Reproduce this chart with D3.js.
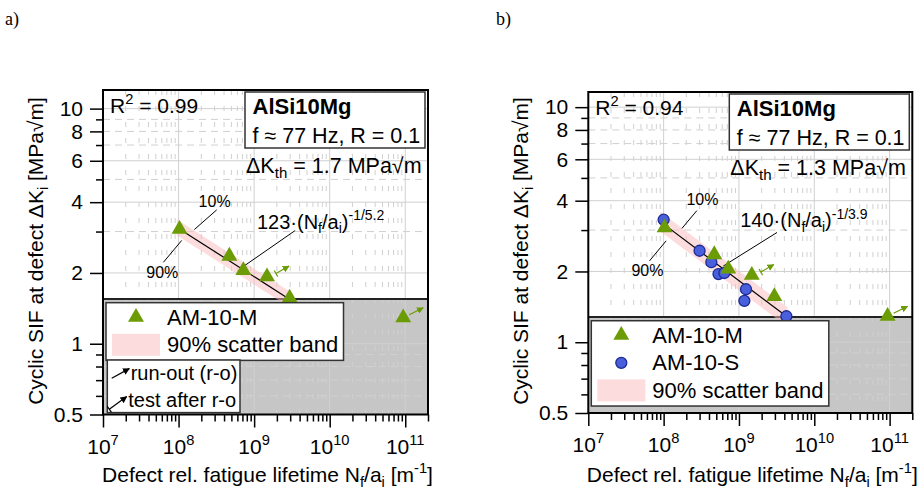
<!DOCTYPE html>
<html>
<head>
<meta charset="utf-8">
<script src="https://cdn.jsdelivr.net/npm/d3@7"></script>
<style>
  body { margin: 0; background: #fff; }
  svg text { font-family: "Liberation Sans", Arial, sans-serif; fill: #000; }
</style>
</head>
<body>
<svg id="chart" width="921" height="491"></svg>
<script>
/* DATA */
const xTickExps = [7, 8, 9, 10, 11];
const yTickLabels = [0.5, 1, 2, 4, 6, 8, 10];
const yMinorTicks = [0.6, 0.7, 0.8, 0.9, 3, 5, 7, 9];
const ySolidGrid = [0.5, 1, 2, 4, 6, 10];
const yDashedGrid = [0.6, 0.7, 0.8, 0.9, 3, 5, 7, 8, 9];

// AM-10-M (triangles) - same specimens shown in both panels
const amM_N = [1.03e8, 4.7e8, 7.2e8, 1.48e9, 2.95e9, 9.4e10];
const amM_K = [3.07, 2.36, 2.05, 1.93, 1.565, 1.29];
const amM_state = ["f", "f", "f", "after", "f", "runout"];

// AM-10-S (circles) - panel b only
const amS_N = [1.0e8, 3.0e8, 4.3e8, 5.35e8, 6.4e8, 1.24e9, 1.18e9, 4.26e9];
const amS_K = [3.32, 2.45, 2.19, 1.95, 1.97, 1.68, 1.50, 1.29];

// per panel values
const panelTags = ["a)", "b)"];
const r2Text = ["0.99", "0.94"];
const dKthText = ["1.7", "1.3"];
const fitCoef = ["123", "140"];
const fitExp = ["5.2", "3.9"];
const fitStart = [[1.05e8, 3.06], [1.0e8, 3.18]];
const fitEnd = [[3.0e9, 1.54], [4.26e9, 1.29]];
const bandRange = [[0.95e8, 3.3e9], [0.9e8, 4.4e9]];
const bandFactor = [1.08, 1.10];
const grayTopK = [1.55, 1.28];

// annotation anchors (data units): [N, K]
const lead10 = [[[3.2e8, 3.71], [1.62e8, 3.06]], [[2.76e8, 3.63], [1.75e8, 3.05]]];
const text10 = [[3.0e8, 3.83], [3.28e8, 3.83]];
const lead90 = [[[1.10e8, 2.75], [6.3e7, 2.22]], [[1.08e8, 2.70], [6.5e7, 2.22]]];
const text90 = [[6.1e7, 1.91], [6.1e7, 1.91]];
const leadFit = [[[3.49e9, 3.03], [6.9e8, 2.11]], [[3.2e9, 2.93], [6.2e8, 2.11]]];
const textFit = [[1.09e9, 3.09], [1.04e9, 3.08]];

/* CONSTANTS */
const FS = 21;
const green = "#6b9c05", blue = "#4a5fdc", blueEdge = "#1c2b94";
const pink = "rgba(250,185,185,0.5)";
const gridCol = "#d0d0d0";
const layout = [
  { left: 103, right: 428, top: 90, bottom: 414.5, yTop: 12, tagX: 5 },
  { left: 588.3, right: 912.3, top: 92, bottom: 413, yTop: 11.6, tagX: 496 }
];

const svg = d3.select("#chart");

const defs = svg.append("defs");
[["arrG", green], ["arrK", "#000"]].forEach(([id, c]) => {
  defs.append("marker")
    .attr("id", id).attr("viewBox", "0 0 10 10")
    .attr("refX", 9).attr("refY", 5)
    .attr("markerWidth", 7).attr("markerHeight", 7)
    .attr("markerUnits", "userSpaceOnUse")
    .attr("orient", "auto")
    .append("path").attr("d", "M0,0L10,5L0,10Z").attr("fill", c);
});

// text with sub/superscripts: parts = [[text, mode], ...]
function rich(sel, parts, size) {
  let shift = 0;
  parts.forEach(([t, m]) => {
    const target = m === "sup" ? -0.42 * size : m === "sub" ? 0.22 * size : 0;
    sel.append("tspan")
      .attr("dy", target - shift)
      .style("font-size", (m === "n" ? size : size * 0.7) + "px")
      .text(t);
    shift = target;
  });
  return sel;
}

function arrow(g, x1, y1, x2, y2, color, tail) {
  g.append("line")
    .attr("x1", x1).attr("y1", y1).attr("x2", x2).attr("y2", y2)
    .attr("stroke", color).attr("stroke-width", 1.2)
    .attr("marker-end", `url(#${color === "#000" ? "arrK" : "arrG"})`);
  if (tail) {
    const dx = x2 - x1, dy = y2 - y1, L = Math.hypot(dx, dy);
    const px = -dy / L * 3.5, py = dx / L * 3.5;
    g.append("line")
      .attr("x1", x1 - px).attr("y1", y1 - py).attr("x2", x1 + px).attr("y2", y1 + py)
      .attr("stroke", color).attr("stroke-width", 1.2);
  }
}

function drawPanel(p) {
  const L = layout[p];
  const g = svg.append("g");

  const x = d3.scaleLog().domain([1e7, 2e11]).range([L.left, L.right]);
  const y = d3.scaleLog().domain([0.5, L.yTop]).range([L.bottom, L.top]);

  const decades = xTickExps.map(e => Math.pow(10, e));
  const xMinor = [];
  xTickExps.forEach(e => d3.range(2, 10).forEach(m => {
    const v = m * Math.pow(10, e);
    if (v <= 2e11) xMinor.push(v);
  }));

  // panel tag
  svg.append("text").attr("x", L.tagX).attr("y", 25)
    .style("font-family", "'Liberation Serif', serif").style("font-size", "18px")
    .text(panelTags[p]);

  // background
  g.append("rect").attr("x", L.left).attr("y", L.top)
    .attr("width", L.right - L.left).attr("height", L.bottom - L.top).attr("fill", "#fff");

  // gray region below threshold
  g.append("rect").attr("x", L.left).attr("y", y(grayTopK[p]))
    .attr("width", L.right - L.left).attr("height", L.bottom - y(grayTopK[p]))
    .attr("fill", "#c6c6c6");

  // grid
  const grid = g.append("g").attr("stroke", gridCol).attr("stroke-width", 1);
  grid.selectAll(".vmaj").data(decades.slice(1)).join("line")
    .attr("x1", d => x(d)).attr("x2", d => x(d)).attr("y1", L.top).attr("y2", L.bottom);
  grid.selectAll(".vmin").data(xMinor).join("line")
    .attr("x1", d => x(d)).attr("x2", d => x(d)).attr("y1", L.top).attr("y2", L.bottom)
    .attr("stroke-dasharray", "5,11");
  grid.selectAll(".hmaj").data(ySolidGrid).join("line")
    .attr("x1", L.left).attr("x2", L.right).attr("y1", d => y(d)).attr("y2", d => y(d));
  grid.selectAll(".hmin").data(yDashedGrid).join("line")
    .attr("x1", L.left).attr("x2", L.right).attr("y1", d => y(d)).attr("y2", d => y(d))
    .attr("stroke-dasharray", "7,5");

  // threshold line
  g.append("line").attr("x1", L.left).attr("x2", L.right)
    .attr("y1", y(grayTopK[p])).attr("y2", y(grayTopK[p]))
    .attr("stroke", "#222").attr("stroke-width", 2);

  // scatter band
  const [n0, k0] = fitStart[p], [n1, k1] = fitEnd[p];
  const slope = Math.log(k1 / k0) / Math.log(n1 / n0);
  const fitK = n => k0 * Math.pow(n / n0, slope);
  const [b0, b1] = bandRange[p], f = bandFactor[p];
  const band = [[b0, fitK(b0) * f], [b1, fitK(b1) * f], [b1, fitK(b1) / f], [b0, fitK(b0) / f]];
  g.append("path")
    .attr("d", d3.line().x(d => x(d[0])).y(d => y(d[1]))(band) + "Z")
    .attr("fill", pink);

  // fit line
  g.append("line")
    .attr("x1", x(n0)).attr("y1", y(k0)).attr("x2", x(n1)).attr("y2", y(k1))
    .attr("stroke", "#000").attr("stroke-width", 1.2);

  // leader lines
  [lead10[p], lead90[p], leadFit[p]].forEach(seg => {
    g.append("line")
      .attr("x1", x(seg[0][0])).attr("y1", y(seg[0][1]))
      .attr("x2", x(seg[1][0])).attr("y2", y(seg[1][1]))
      .attr("stroke", "#000").attr("stroke-width", 1);
  });
  g.append("text").attr("x", x(text10[p][0])).attr("y", y(text10[p][1]))
    .attr("text-anchor", "middle").style("font-size", "16px").text("10%");
  g.append("text").attr("x", x(text90[p][0])).attr("y", y(text90[p][1]))
    .attr("text-anchor", "middle").style("font-size", "16px").text("90%");
  rich(g.append("text").attr("x", x(textFit[p][0])).attr("y", y(textFit[p][1])),
    [[fitCoef[p] + "\u00b7(N", "n"], ["f", "sub"], ["/a", "n"], ["i", "sub"], [")", "n"], ["-1/" + fitExp[p], "sup"]], 20);

  // AM-10-S circles
  if (p === 1) {
    g.selectAll(".circ").data(d3.range(amS_N.length)).join("circle")
      .attr("cx", i => x(amS_N[i])).attr("cy", i => y(amS_K[i])).attr("r", 5.5)
      .attr("fill", blue).attr("stroke", blueEdge).attr("stroke-width", 1.3);
  }

  // AM-10-M triangles
  const tri = d3.symbol().type(d3.symbolTriangle).size(110);
  g.selectAll(".tri").data(d3.range(amM_N.length)).join("path")
    .attr("transform", i => `translate(${x(amM_N[i])},${y(amM_K[i])})`)
    .attr("d", tri).attr("fill", green);

  // run-out arrows
  amM_state.forEach((s, i) => {
    const cx = x(amM_N[i]), cy = y(amM_K[i]);
    if (s === "runout") arrow(g, cx + 6, cy - 3, cx + 20, cy - 10, green, false);
    if (s === "after") arrow(g, cx + 9, cy - 3, cx + 22, cy - 10.5, green, true);
  });

  // texts
  rich(g.append("text").attr("x", L.left + 7).attr("y", L.top + 23),
    [["R", "n"], ["2", "sup"], [" = " + r2Text[p], "n"]], FS);

  const bx = L.right - 183, by = L.top + 2;
  g.append("rect").attr("x", bx).attr("y", by).attr("width", 180).attr("height", 56)
    .attr("fill", "#fff").attr("stroke", "#333").attr("stroke-width", 1.5);
  g.append("text").attr("x", bx + 7.5).attr("y", by + 22)
    .style("font-size", "22px").style("font-weight", "bold").text("AlSi10Mg");
  g.append("text").attr("x", bx + 7.5).attr("y", by + 51)
    .style("font-size", "21.5px").text("f \u2248 77 Hz, R = 0.1");
  rich(g.append("text").attr("x", L.right - 182).attr("y", L.top + 83),
    [["\u0394K", "n"], ["th", "sub"], [" = " + dKthText[p] + " MPa\u221am", "n"]], 21.5);

  // legend
  const entries = p === 0 ? ["tri", "band"] : ["tri", "circ", "band"];
  const labels = { tri: "AM-10-M", circ: "AM-10-S", band: "90% scatter band" };
  const lx = L.left + 3, ly = y(grayTopK[p]) + 3.7, rowH = 27.6;
  const lg = g.append("g");
  lg.append("rect").attr("x", lx).attr("y", ly).attr("width", 237.5)
    .attr("height", entries.length * rowH + 2.5)
    .attr("fill", "#fff").attr("stroke", "#333").attr("stroke-width", 1.5);
  entries.forEach((e, i) => {
    const base = ly + 22 + i * rowH, cy = base - 7.5;
    if (e === "tri") lg.append("path").attr("transform", `translate(${lx + 30},${cy})`).attr("d", tri).attr("fill", green);
    if (e === "circ") lg.append("circle").attr("cx", lx + 30).attr("cy", cy).attr("r", 5.5)
      .attr("fill", blue).attr("stroke", blueEdge).attr("stroke-width", 1.3);
    if (e === "band") lg.append("rect").attr("x", lx + 6).attr("y", cy - 11).attr("width", 48).attr("height", 22).attr("fill", pink);
    lg.append("text").attr("x", lx + 61).attr("y", base).style("font-size", "22px").text(labels[e]);
  });

  if (p === 0) {
    const ax = L.left + 4.3, ay = L.bottom - 54.5;
    const ag = g.append("g");
    ag.append("rect").attr("x", ax).attr("y", ay).attr("width", 132.7).attr("height", 52.6)
      .attr("fill", "#fff").attr("stroke", "#333").attr("stroke-width", 1.5);
    arrow(ag, ax + 4.4, ay + 18.3, ax + 22, ay + 8.6, "#000", false);
    ag.append("text").attr("x", ax + 23.4).attr("y", ay + 19.5).style("font-size", "20px").text("run-out (r-o)");
    arrow(ag, ax + 2, ay + 49.3, ax + 19.4, ay + 36.6, "#000", true);
    ag.append("text").attr("x", ax + 21).attr("y", ay + 46.5).style("font-size", "20px").text("test after r-o");
  }

  // frame
  g.append("rect").attr("x", L.left).attr("y", L.top)
    .attr("width", L.right - L.left).attr("height", L.bottom - L.top)
    .attr("fill", "none").attr("stroke", "#000").attr("stroke-width", 2);

  // axes
  const yMaj = d3.axisLeft(y).tickValues(yTickLabels).tickSize(13).tickPadding(7).tickFormat(d => d);
  const yMin = d3.axisLeft(y).tickValues(yMinorTicks).tickSize(7).tickFormat("");
  const xMaj = d3.axisBottom(x).tickValues(decades).tickSize(13).tickFormat("");
  const xMin = d3.axisBottom(x).tickValues(xMinor).tickSize(7).tickFormat("");

  [yMaj, yMin].forEach(ax => {
    const a = g.append("g").attr("transform", `translate(${L.left},0)`).call(ax);
    a.select(".domain").remove();
    a.selectAll("line").attr("stroke", "#000").attr("stroke-width", 1.5);
    a.selectAll("text").style("font-size", FS + "px").attr("fill", "#000")
      .style("font-family", "'Liberation Sans', Arial, sans-serif");
  });
  [xMaj, xMin].forEach(ax => {
    const a = g.append("g").attr("transform", `translate(0,${L.bottom})`).call(ax);
    a.select(".domain").remove();
    a.selectAll("line").attr("stroke", "#000").attr("stroke-width", 1.5);
  });
  xTickExps.forEach(e => {
    rich(g.append("text").attr("x", x(Math.pow(10, e))).attr("y", L.bottom + 39).attr("text-anchor", "middle"),
      [["10", "n"], [String(e), "sup"]], FS);
  });

  // axis titles
  rich(g.append("text").attr("x", (L.left + L.right) / 2 + 2).attr("y", 482).attr("text-anchor", "middle"),
    [["Defect rel. fatigue lifetime N", "n"], ["f", "sub"], ["/a", "n"], ["i", "sub"], [" [m", "n"], ["-1", "sup"], ["]", "n"]], FS);
  rich(g.append("text").attr("text-anchor", "middle")
      .attr("transform", `translate(${L.left - 60},251) rotate(-90)`),
    [["Cyclic SIF at defect \u0394K", "n"], ["i", "sub"], [" [MPa\u221am]", "n"]], FS);
}

drawPanel(0);
drawPanel(1);
</script>
</body>
</html>
